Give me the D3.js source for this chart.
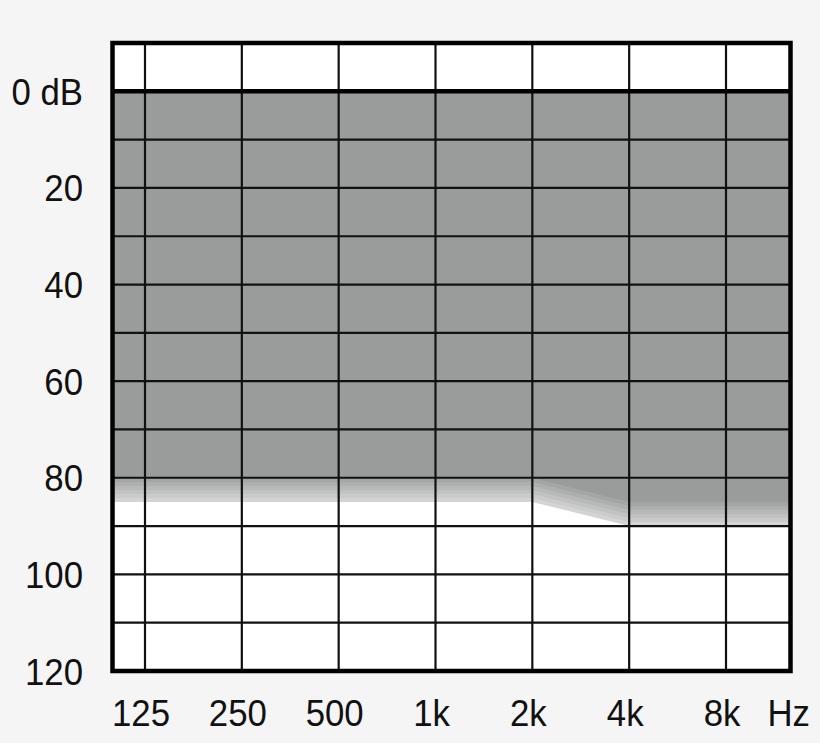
<!DOCTYPE html>
<html>
<head>
<meta charset="utf-8">
<script src="https://cdn.jsdelivr.net/npm/d3@7"></script>
<style>
  body { margin: 0; background: #f5f5f5; }
  text { font-family: "Liberation Sans", Arial, sans-serif; font-size: 37px; fill: #111; }
</style>
</head>
<body>
<svg id="chart"></svg>
<script>
// Audiogram data
const freqs = [125, 250, 500, 1000, 2000, 4000, 8000];
const freqLabels = ["125", "250", "500", "1k", "2k", "4k", "8k"];
const threshold = [85, 85, 85, 85, 85, 90, 90];
const dbTicks = [0, 20, 40, 60, 80, 100, 120];
const dbGrid = [10, 20, 30, 40, 50, 60, 70, 80, 90, 100, 110];

const W = 820, H = 743;
// plot frame
const frame = { left: 112.5, right: 790.5, top: 43, bottom: 671 };
const squeeze = 0.94; // labels are slightly narrow in the original

const svg = d3.select("#chart").attr("width", W).attr("height", H);

const x = d3.scaleLog().base(2).domain([125, 8000]).range([145, 726]);
const y = d3.scaleLinear().domain([-10, 120]).range([frame.top, frame.bottom]);

svg.append("clipPath").attr("id", "clip")
  .append("rect")
  .attr("x", frame.left).attr("y", frame.top)
  .attr("width", frame.right - frame.left).attr("height", frame.bottom - frame.top);

const plot = svg.append("g").attr("clip-path", "url(#clip)");

plot.append("rect")
  .attr("x", frame.left).attr("y", frame.top)
  .attr("width", frame.right - frame.left).attr("height", frame.bottom - frame.top)
  .attr("fill", "#fff");

// threshold points, extended to the frame edges
const pts = freqs.map((f, i) => ({ px: x(f), db: threshold[i] }));
pts.unshift({ px: frame.left, db: threshold[0] });
pts.push({ px: frame.right, db: threshold[threshold.length - 1] });

// layered fill: light outer band fading into the solid grey
const layers = 7;
const shade = d3.interpolateRgb("#d4d4d4", "#9a9c9c");
for (let k = 0; k < layers; k++) {
  const off = (k * 5) / (layers - 1);
  const area = d3.area()
    .x((d) => d.px)
    .y0(y(0))
    .y1((d) => y(d.db - off));
  plot.append("path")
    .datum(pts)
    .attr("d", area)
    .attr("fill", shade(k / (layers - 1)));
}

// horizontal grid
plot.selectAll(".hgrid")
  .data(dbGrid)
  .enter()
  .append("line")
  .attr("class", "hgrid")
  .attr("x1", frame.left).attr("x2", frame.right)
  .attr("y1", (d) => y(d)).attr("y2", (d) => y(d))
  .attr("stroke", "#111").attr("stroke-width", 2.2);

// vertical grid
plot.selectAll(".vgrid")
  .data(freqs)
  .enter()
  .append("line")
  .attr("class", "vgrid")
  .attr("x1", (d) => x(d)).attr("x2", (d) => x(d))
  .attr("y1", frame.top).attr("y2", frame.bottom)
  .attr("stroke", "#111").attr("stroke-width", 2.2);

// 0 dB reference line
svg.append("line")
  .attr("x1", frame.left).attr("x2", frame.right)
  .attr("y1", y(0)).attr("y2", y(0))
  .attr("stroke", "#000").attr("stroke-width", 4.5);

// frame
svg.append("rect")
  .attr("x", frame.left).attr("y", frame.top)
  .attr("width", frame.right - frame.left).attr("height", frame.bottom - frame.top)
  .attr("fill", "none")
  .attr("stroke", "#000").attr("stroke-width", 4.5);

// y labels
svg.selectAll(".ylab")
  .data(dbTicks)
  .enter()
  .append("text")
  .attr("class", "ylab")
  .attr("transform", (d) => `translate(83,${y(d) + 13.5}) scale(${squeeze},1)`)
  .attr("text-anchor", "end")
  .text((d) => (d === 0 ? "0 dB" : d));

// x labels
svg.selectAll(".xlab")
  .data(freqs)
  .enter()
  .append("text")
  .attr("class", "xlab")
  .attr("transform", (d) => `translate(${x(d) - 4},726) scale(${squeeze},1)`)
  .attr("text-anchor", "middle")
  .text((d, i) => freqLabels[i]);

svg.append("text")
  .attr("transform", `translate(810,726) scale(${squeeze},1)`)
  .attr("text-anchor", "end")
  .text("Hz");
</script>
</body>
</html>
